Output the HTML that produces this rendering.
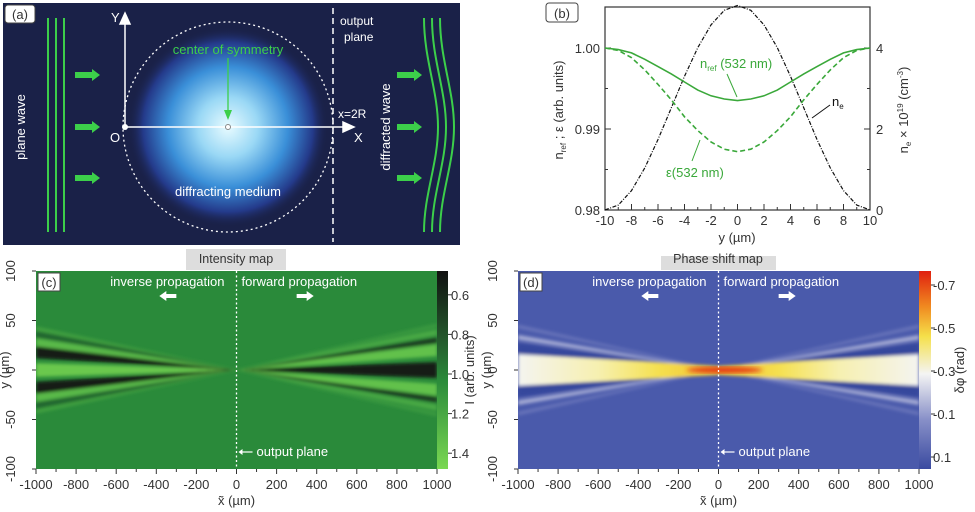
<!DOCTYPE html>
<html><head><meta charset="utf-8"><style>
html,body{margin:0;padding:0;background:#fff}
svg{display:block;font-family:"Liberation Sans",sans-serif}
</style></head><body>
<svg id="fig" width="975" height="512" viewBox="0 0 975 512" xmlns="http://www.w3.org/2000/svg">
<defs>
<radialGradient id="glow" cx="0.5" cy="0.5" r="0.5">
<stop offset="0" stop-color="#e8fbff"/><stop offset="0.3" stop-color="#9ad8f5"/><stop offset="0.6" stop-color="#3a8fd8"/><stop offset="0.85" stop-color="#243a8a"/><stop offset="1" stop-color="#1a2148" stop-opacity="0"/>
</radialGradient>
<linearGradient id="cbI" x1="0" y1="0" x2="0" y2="1"><stop offset="0" stop-color="#111"/><stop offset="0.35" stop-color="#245a2c"/><stop offset="0.55" stop-color="#2a8a3a"/><stop offset="1" stop-color="#7ad852"/></linearGradient>
<linearGradient id="cbP" x1="0" y1="0" x2="0" y2="1"><stop offset="0" stop-color="#e0200f"/><stop offset="0.18" stop-color="#f08a20"/><stop offset="0.33" stop-color="#f5e04a"/><stop offset="0.52" stop-color="#f4f4f4"/><stop offset="0.75" stop-color="#8890c8"/><stop offset="1" stop-color="#3a4aa0"/></linearGradient>
<linearGradient id="coreP" x1="0" y1="0" x2="1" y2="0"><stop offset="0" stop-color="#f4f4f0"/><stop offset="0.2" stop-color="#f6f0b0"/><stop offset="0.35" stop-color="#f5e050"/><stop offset="0.5" stop-color="#f2c030"/><stop offset="0.65" stop-color="#f5e050"/><stop offset="0.8" stop-color="#f6f0b0"/><stop offset="1" stop-color="#f4f4f0"/></linearGradient>
<clipPath id="clipC"><rect x="36" y="271" width="401" height="198"/></clipPath>
<clipPath id="clipD"><rect x="518" y="271" width="401" height="198"/></clipPath>
<filter id="blur" x="-10%" y="-10%" width="120%" height="120%"><feGaussianBlur stdDeviation="1.6"/></filter>
<filter id="blur2"><feGaussianBlur stdDeviation="2.5"/></filter>
</defs>

<g>
<rect x="3" y="3" width="457" height="242" fill="#1a2148"/>
<circle cx="228" cy="127" r="100" fill="url(#glow)"/>
<circle cx="228" cy="127" r="105" fill="none" stroke="#fff" stroke-width="1.3" stroke-dasharray="2,3"/>
<g stroke="#3ccf4a" stroke-width="2">
<line x1="48" y1="18" x2="48" y2="232"/><line x1="56" y1="18" x2="56" y2="232"/><line x1="64" y1="18" x2="64" y2="232"/>
</g>
<g fill="#3ccf4a">
<polygon points="75,72 92,72 92,69 100,75 92,81 92,78 75,78"/>
<polygon points="75,124 92,124 92,121 100,127 92,133 92,130 75,130"/>
<polygon points="75,175 92,175 92,172 100,178 92,184 92,181 75,181"/>
<polygon points="397,72 414,72 414,69 422,75 414,81 414,78 397,78"/>
<polygon points="397,124 414,124 414,121 422,127 414,133 414,130 397,130"/>
<polygon points="397,175 414,175 414,172 422,178 414,184 414,181 397,181"/>
</g>
<g fill="none" stroke="#3ccf4a" stroke-width="2">
<path d="M432,18 C432,60 446,90 446,127 C446,164 432,194 432,232"/>
<path d="M440,18 C440,60 454,90 454,127 C454,164 440,194 440,232"/>
<path d="M424,18 C424,60 438,90 438,127 C438,164 424,194 424,232"/>
</g>
<g stroke="#fff" stroke-width="1.5" fill="#fff">
<line x1="125" y1="127" x2="125" y2="22"/>
<polygon points="120,24 125,13 130,24"/>
<line x1="125" y1="127" x2="345" y2="127"/>
<polygon points="343,122 354,127 343,132"/>
</g>
<circle cx="125" cy="127" r="3" fill="#fff"/>
<circle cx="228" cy="127" r="2.5" fill="#fff" stroke="#888"/>
<line x1="333" y1="8" x2="333" y2="242" stroke="#fff" stroke-width="1.5" stroke-dasharray="6,4"/>
<line x1="228" y1="58" x2="228" y2="112" stroke="#3ccf4a" stroke-width="1.3"/>
<polygon points="224,110 228,120 232,110" fill="#3ccf4a"/>
<g fill="#fff" font-size="13">
<text x="111" y="22">Y</text>
<text x="354" y="142">X</text>
<text x="110" y="142">O</text>
<text x="338" y="118" font-size="12">x=2R</text>
<text x="340" y="25" font-size="12">output</text>
<text x="344" y="41" font-size="12">plane</text>
<text x="228" y="196" text-anchor="middle" font-size="13">diffracting medium</text>
<text transform="translate(25,127) rotate(-90)" text-anchor="middle" font-size="13">plane wave</text>
<text transform="translate(390,127) rotate(-90)" text-anchor="middle" font-size="13">diffracted wave</text>
</g>
<text x="228" y="54" text-anchor="middle" fill="#3ccf4a" font-size="13">center of symmetry</text>
<rect x="5" y="5" width="30" height="18" rx="3" fill="#fff" stroke="#444"/>
<text x="20" y="19" text-anchor="middle" font-size="13" fill="#333">(a)</text>
</g>

<g id="pb">
<rect x="546" y="3" width="32" height="19" rx="3" fill="#fff" stroke="#444"/>
<text x="562" y="18" text-anchor="middle" font-size="13" fill="#333">(b)</text>
<rect x="605" y="7" width="265" height="203" fill="none" stroke="#333" stroke-width="1.2"/>
</g>

<g id="pc">
<rect x="186" y="249" width="100" height="21" fill="#ddd"/>
<text x="236" y="263" text-anchor="middle" font-size="12.5" fill="#333">Intensity map</text>
<rect x="36" y="271" width="401" height="198" fill="#2a8a3a"/>
<g id="cBands" clip-path="url(#clipC)"><g id="cBandsInner" filter="url(#blur)"></g></g>
<rect x="437" y="271" width="11" height="198" fill="url(#cbI)"/>
</g>

<g id="pd">
<rect x="661" y="256" width="115" height="14" fill="#ddd"/>
<text x="718" y="263" text-anchor="middle" font-size="12.5" fill="#333">Phase shift map</text>
<rect x="518" y="271" width="401" height="198" fill="#4a5aab"/>
<g id="dBands" clip-path="url(#clipD)"><g id="dBandsInner" filter="url(#blur)"></g></g>
<rect x="919" y="271" width="12" height="198" fill="url(#cbP)"/>
</g>
</svg>
<script>
const yPos = [-10,-9,-8,-7,-6,-5,-4,-3,-2,-1,0,1,2,3,4,5,6,7,8,9,10];
const nRef = [1.0,0.9998,0.9994,0.9986,0.9977,0.9968,0.9958,0.9948,0.9941,0.9937,0.9935,0.9937,0.9941,0.9948,0.9958,0.9968,0.9977,0.9986,0.9994,0.9998,1.0];
const epsVals = [1.0,0.9997,0.9988,0.9973,0.9955,0.9936,0.9915,0.9898,0.9884,0.9875,0.9872,0.9875,0.9884,0.9898,0.9915,0.9936,0.9955,0.9973,0.9988,0.9997,1.0];
const neVals = [0,0.12,0.48,1.04,1.74,2.52,3.3,4.01,4.57,4.93,5.05,4.93,4.57,4.01,3.3,2.52,1.74,1.04,0.48,0.12,0];
const xTicksB = [-10,-8,-6,-4,-2,0,2,4,6,8,10];
const leftTicksB = ["0.98","0.99","1.00"];
const rightTicksB = [0,2,4];

const intLeftY = [0,18,-18,28,-28,36,-36,42,-42];
const intLeftW = [7,6,6,4,4,3,3,2,2];
const intLeftV = [1.4,0.55,0.55,1.3,1.3,0.85,0.85,1.15,1.15];
const intRightY = [0,20,-20,30,-30,38,-38,45,-45];
const intRightW = [8,6,6,3,3,3,3,2,2];
const intRightV = [0.55,1.35,1.35,0.7,0.7,1.2,1.2,1.1,1.1];
const phaseY = [22,-22,33,-33,44,-44];
const phaseW = [5,5,2.5,2.5,2,2];
const phaseV = [0.12,0.12,-0.15,-0.15,-0.02,-0.02];
const phaseCoreHalf = 16;
const xTicksMap = [-1000,-800,-600,-400,-200,0,200,400,600,800,1000];
const yTicksMap = [100,50,0,-50,-100];
const cbIntTicks = [0.6,0.8,1.0,1.2,1.4];
const cbPhaseTicks = ["-0.7","-0.5","-0.3","-0.1","0.1"];

const NS = "http://www.w3.org/2000/svg";
function mk(tag, attrs, parent, txt){const e=document.createElementNS(NS,tag);for(const k in attrs)e.setAttribute(k,attrs[k]);if(txt!==undefined)e.textContent=txt;parent.appendChild(e);return e;}

const bx = v => 605 + (v+10)/20*265;
const byL = v => 210 - (v-0.98)/0.02*162;
const byR = v => 210 - v/4*162;
const pb = document.getElementById('pb');
xTicksB.forEach(t=>{
  const l=mk('line',{x1:bx(t),x2:bx(t),y1:210,y2:204,stroke:'#333'},pb);
   
  const tx=mk('text',{x:bx(t),y:225,'text-anchor':'middle','font-size':13,fill:'#333'},pb,String(t));
   
});
[-9,-7,-5,-3,-1,1,3,5,7,9].forEach(t=>mk('line',{x1:bx(t),x2:bx(t),y1:210,y2:207,stroke:'#333'},pb));
leftTicksB.forEach(t=>{
  const y=byL(parseFloat(t));
  mk('line',{x1:605,x2:611,y1:y,y2:y,stroke:'#333'},pb);
  const tx=mk('text',{x:600,y:y+5,'text-anchor':'end','font-size':13,fill:'#333'},pb,t);
   
});
[0.985,0.995].forEach(v=>mk('line',{x1:605,x2:608,y1:byL(v),y2:byL(v),stroke:'#333'},pb));
rightTicksB.forEach(t=>{
  const y=byR(t);
  mk('line',{x1:864,x2:870,y1:y,y2:y,stroke:'#333'},pb);
  const tx=mk('text',{x:876,y:y+5,'font-size':13,fill:'#333'},pb,String(t));
   
});
[1,3].forEach(v=>mk('line',{x1:867,x2:870,y1:byR(v),y2:byR(v),stroke:'#333'},pb));
function pathOf(ys,f){return ys.map((v,i)=>(i?'L':'M')+bx(yPos[i]).toFixed(1)+','+f(v).toFixed(1)).join(' ');}
let p=mk('path',{d:pathOf(neVals,byR),fill:'none',stroke:'#111','stroke-width':1.2,'stroke-dasharray':'4,1.5,1,1.5'},pb);
 
p=mk('path',{d:pathOf(nRef,byL),fill:'none',stroke:'#3aa83a','stroke-width':1.6},pb);
 
p=mk('path',{d:pathOf(epsVals,byL),fill:'none',stroke:'#3aa83a','stroke-width':1.6,'stroke-dasharray':'5,3'},pb);
 
mk('line',{x1:737,x2:727,y1:97,y2:74,stroke:'#3aa83a'},pb);
mk('line',{x1:700,x2:692,y1:140,y2:161,stroke:'#3aa83a'},pb);
mk('line',{x1:812,x2:830,y1:118,y2:105,stroke:'#111'},pb);
let t=mk('text',{x:700,y:68,'font-size':13,fill:'#3aa83a'},pb,'');
 
t.innerHTML='n<tspan font-size="8" dy="3">ref</tspan><tspan dy="-3"> (532 nm)</tspan>';
t=mk('text',{x:666,y:177,'font-size':13,fill:'#3aa83a'},pb,'ε(532 nm)');
 
t=mk('text',{x:832,y:106,'font-size':13,fill:'#111'},pb,'');
t.innerHTML='n<tspan font-size="8" dy="3">e</tspan>';
 
t=mk('text',{x:737,y:242,'text-anchor':'middle','font-size':13,fill:'#333'},pb,'y (µm)');
 
t=mk('text',{transform:'translate(563,110) rotate(-90)','text-anchor':'middle','font-size':13,fill:'#333'},pb,'');
t.innerHTML='n<tspan font-size="8" dy="3">ref</tspan><tspan dy="-3"> ; ε (arb. units)</tspan>';
 
t=mk('text',{transform:'translate(908,110) rotate(-90)','text-anchor':'middle','font-size':13,fill:'#333'},pb,'');
t.innerHTML='n<tspan font-size="8" dy="3">e</tspan><tspan dy="-3"> × 10</tspan><tspan font-size="8" dy="-5">19</tspan><tspan dy="5"> (cm</tspan><tspan font-size="8" dy="-5">-3</tspan><tspan dy="5">)</tspan>';
 

function mix(a,b,f){return a.map((v,i)=>Math.round(v+(b[i]-v)*f));}
function rgb(c){return 'rgb('+c.join(',')+')';}
function intColor(v){const d=[17,17,17],m=[42,138,58],b=[122,216,82];
  return v<1?rgb(mix(d,m,Math.max(0,(v-0.5)/0.5))):rgb(mix(m,b,Math.min(1,(v-1)/0.5)));}
function phaseColor(v){const stops=[[-0.75,[224,32,15]],[-0.45,[245,224,74]],[-0.3,[244,244,244]],[-0.1,[136,144,200]],[0.05,[74,90,171]],[0.15,[46,62,150]]];
  for(let i=0;i<stops.length-1;i++){if(v<=stops[i+1][0]){const f=(v-stops[i][0])/(stops[i+1][0]-stops[i][0]);return rgb(mix(stops[i][1],stops[i+1][1],Math.max(0,f)));}}
  return rgb(stops[stops.length-1][1]);}

function makeMap(x0){
  const X = v => x0 + (v+1000)/2000*401;
  const Y = v => 370 - v*0.99;
  return {X,Y};
}
function wedge(g,X,Y,side,yE,hw,fill,name){
  const xe=side*1000, w0=Math.max(0.4,hw*0.08);
  const pts=[[X(0),Y(w0)],[X(xe),Y(yE+hw)],[X(xe),Y(yE-hw)],[X(0),Y(-w0)]];
  const e=mk('polygon',{points:pts.map(q=>q.join(',')).join(' '),fill:fill},g);
   
}
function axesFor(x0,svgParent,X,Y){
  xTicksMap.forEach(v=>{
    mk('line',{x1:X(v),x2:X(v),y1:469,y2:474,stroke:'#333'},svgParent);
    const tx=mk('text',{x:X(v),y:489,'text-anchor':'middle','font-size':13,fill:'#333'},svgParent,String(v));
     
  });
  [-900,-700,-500,-300,-100,100,300,500,700,900].forEach(v=>mk('line',{x1:X(v),x2:X(v),y1:469,y2:472,stroke:'#333'},svgParent));
  yTicksMap.forEach(v=>{
    mk('line',{x1:x0-4,x2:x0,y1:Y(v),y2:Y(v),stroke:'#333'},svgParent);
    const tx=mk('text',{transform:'translate('+(x0-21)+','+Y(v)+') rotate(-90)','text-anchor':'middle','font-size':13,fill:'#333'},svgParent,String(v));
     
  });
  let t=mk('text',{x:X(0),y:505,'text-anchor':'middle','font-size':13,fill:'#333'},svgParent,'x̃ (µm)');
   
  t=mk('text',{transform:'translate('+(x0-27)+',370) rotate(-90)','text-anchor':'middle','font-size':13,fill:'#333'},svgParent,'y (µm)');
   
  mk('line',{x1:X(0),x2:X(0),y1:271,y2:469,stroke:'#fff','stroke-width':1.3,'stroke-dasharray':'2,2.5'},svgParent);
  t=mk('text',{x:X(0)-12,y:286,'text-anchor':'end','font-size':13,fill:'#fff'},svgParent,'inverse propagation');
   
  t=mk('text',{x:X(0)+5,y:286,'font-size':13,fill:'#fff'},svgParent,'forward propagation');
   
  mk('polygon',{points:[[X(-300),298],[X(-300),294],[X(-350),294],[X(-350),291],[X(-385),296],[X(-350),301],[X(-350),298]].map(q=>q.join(',')).join(' '),fill:'#fff'},svgParent);
  mk('polygon',{points:[[X(300),294],[X(300),298],[X(350),298],[X(350),301],[X(385),296],[X(350),291],[X(350),294]].map(q=>q.join(',')).join(' '),fill:'#fff'},svgParent);
  mk('line',{x1:X(20),x2:X(80),y1:452,y2:452,stroke:'#fff','stroke-width':1.2},svgParent);
  mk('polygon',{points:X(10)+',452 '+X(30)+',449 '+X(30)+',455',fill:'#fff'},svgParent);
  t=mk('text',{x:X(100),y:456,'font-size':13,fill:'#fff'},svgParent,'output plane');
   
}

(function(){
  const {X,Y}=makeMap(36);
  const g=document.getElementById('cBandsInner');
  intLeftY.forEach((y,i)=>wedge(g,X,Y,-1,y,intLeftW[i],intColor(intLeftV[i]),'intensity-band-left'));
  intRightY.forEach((y,i)=>wedge(g,X,Y,1,y,intRightW[i],intColor(intRightV[i]),'intensity-band-right'));
  const pc=document.getElementById('pc');
  axesFor(36,pc,X,Y);
  const cy=v=>271+(v-0.5)/1.0*198+4;
  cbIntTicks.forEach(v=>{
    mk('line',{x1:448,x2:452,y1:cy(v),y2:cy(v),stroke:'#333'},pc);
    const tx=mk('text',{x:451,y:cy(v)+5,'font-size':13,fill:'#333'},pc,v.toFixed(1));
     
  });
  const t=mk('text',{transform:'translate(474,370) rotate(-90)','text-anchor':'middle','font-size':13,fill:'#333'},pc,'I (arb. units)');
   
  mk('rect',{x:38,y:273,width:22,height:18,fill:'#fff',stroke:'#444'},pc);
  const tt=mk('text',{x:49,y:287,'text-anchor':'middle','font-size':13,fill:'#333'},pc,'(c)');
   
})();

(function(){
  const {X,Y}=makeMap(518);
  const g=document.getElementById('dBandsInner');
  phaseY.forEach((y,i)=>{wedge(g,X,Y,-1,y,phaseW[i],phaseColor(phaseV[i]),'phase-band-left');wedge(g,X,Y,1,y,phaseW[i],phaseColor(phaseV[i]),'phase-band-right');});
  const core=mk('polygon',{points:[[X(-1000),Y(phaseCoreHalf)],[X(0),Y(4)],[X(1000),Y(phaseCoreHalf)],[X(1000),Y(-phaseCoreHalf)],[X(0),Y(-5)],[X(-1000),Y(-phaseCoreHalf)]].map(q=>q.join(',')).join(' '),fill:'url(#coreP)'},g);
   
  const red=mk('ellipse',{cx:X(30),cy:Y(0),rx:38,ry:3,fill:phaseColor(-0.72),filter:'url(#blur2)'},document.getElementById('dBands'));
   
  const pd=document.getElementById('pd');
  axesFor(518,pd,X,Y);
  cbPhaseTicks.forEach((s,i)=>{
    const y=285+i*43;
    mk('line',{x1:931,x2:935,y1:y,y2:y,stroke:'#333'},pd);
    const tx=mk('text',{x:933,y:y+5,'font-size':13,fill:'#333'},pd,s);
     
  });
  const t=mk('text',{transform:'translate(964,370) rotate(-90)','text-anchor':'middle','font-size':13,fill:'#333'},pd,'δφ (rad)');
   
  mk('rect',{x:520,y:273,width:22,height:18,fill:'#fff',stroke:'#444'},pd);
  const tt=mk('text',{x:531,y:287,'text-anchor':'middle','font-size':13,fill:'#333'},pd,'(d)');
   
})();
</script>
</body></html>
